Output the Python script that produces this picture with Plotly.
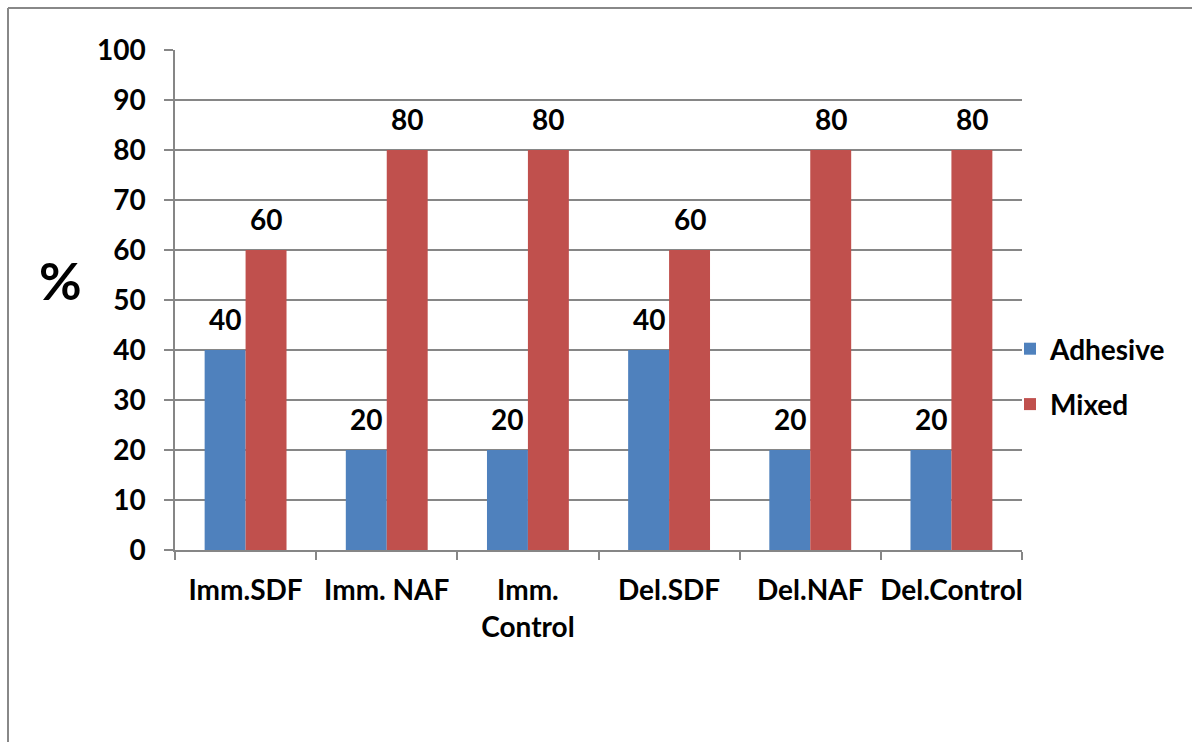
import plotly.graph_objects as go

# Failure-mode percentages per group
categories = ["Imm.SDF", "Imm. NAF", "Imm.<br>Control", "Del.SDF", "Del.NAF", "Del.Control"]
adhesive = [40, 20, 20, 40, 20, 20]
mixed = [60, 80, 80, 60, 80, 80]
y_ticks = [0, 10, 20, 30, 40, 50, 60, 70, 80, 90, 100]

W, H = 1192, 742
M_L, M_R, M_T, M_B = 175, 170, 50, 192
BARGAP = 0.42
FONT = dict(family="Lato", size=28, color="black", weight="bold")
GRID = "#868686"

fig = go.Figure()
fig.add_trace(go.Bar(name="Adhesive", x=categories, y=adhesive,
                     marker=dict(color="#4F81BD", line=dict(width=0)),
                     legendgroup="a"))
fig.add_trace(go.Bar(name="Mixed", x=categories, y=mixed,
                     marker=dict(color="#C0504D", line=dict(width=0)),
                     legendgroup="m"))

# value labels above each bar
plot_w = W - M_L - M_R
bar_px = plot_w / len(categories) * (1 - BARGAP) / 2
for vals, side in ((adhesive, -1), (mixed, 1)):
    for c, v in zip(categories, vals):
        fig.add_annotation(x=c, y=v, xref="x", yref="y", text=str(v),
                           showarrow=False, xshift=side * bar_px / 2,
                           yanchor="bottom", yshift=12, font=FONT)

# axis title "%"
px = lambda v: (v - M_L) / plot_w
py = lambda v: (H - M_B - v) / (H - M_T - M_B)
fig.add_annotation(x=px(60), y=py(280), xref="paper", yref="paper",
                   xanchor="center", yanchor="middle", text="%", showarrow=False,
                   font=dict(family="Lato", size=52, color="black", weight="bold"))

# outer frame: top and left edges
frame = dict(color="#888888", width=2)
fig.add_shape(type="line", xref="paper", yref="paper",
              x0=px(8), x1=px(W + 5), y0=py(8), y1=py(8), line=frame)
fig.add_shape(type="line", xref="paper", yref="paper",
              x0=px(8), x1=px(8), y0=py(8), y1=py(H + 5), line=frame)

fig.update_layout(
    width=W, height=H,
    margin=dict(l=M_L, r=M_R, t=M_T, b=M_B, pad=0),
    paper_bgcolor="white", plot_bgcolor="white",
    barmode="group", bargap=BARGAP, bargroupgap=0,
    font=FONT,
    showlegend=True,
    legend=dict(x=px(1010), y=py(324), xanchor="left", yanchor="top",
                font=FONT, tracegroupgap=16, bgcolor="rgba(0,0,0,0)"),
    xaxis=dict(showline=True, linecolor=GRID, linewidth=1.5,
               ticks="outside", ticklen=8, tickcolor=GRID, tickwidth=1.5,
               tickson="boundaries", showgrid=False, tickfont=FONT,
               tickangle=0, ticklabelstandoff=15),
    yaxis=dict(range=[0, 100], tickvals=y_ticks, showline=True,
               linecolor=GRID, linewidth=1.5, ticks="outside", ticklen=9,
               tickcolor=GRID, tickwidth=1.5, showgrid=True, gridcolor=GRID,
               gridwidth=1.5, zeroline=False, tickfont=FONT,
               ticklabelstandoff=13),
)

fig.write_html("out.html")
